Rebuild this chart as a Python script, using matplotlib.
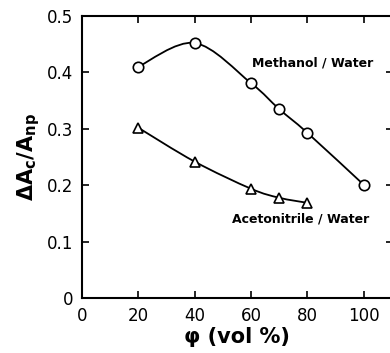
import numpy as np
import matplotlib
matplotlib.use("Agg")
import matplotlib.pyplot as plt
from matplotlib.path import Path
from matplotlib.patches import PathPatch

# data
phi_meoh = [20, 40, 60, 70, 80, 100]
ratio_meoh = [0.410, 0.452, 0.381, 0.335, 0.293, 0.201]
phi_acn = [20, 40, 60, 70, 80]
ratio_acn = [0.302, 0.242, 0.194, 0.178, 0.169]

x_ticks = [0, 20, 40, 60, 80, 100]
y_ticks = [0, 0.1, 0.2, 0.3, 0.4, 0.5]
y_ticklabels = ["0", "0.1", "0.2", "0.3", "0.4", "0.5"]

plt.rcParams['font.family'] = ['DejaVu Sans']


# smooth line through the points (Catmull-Rom drawn as Bezier segments)
def smooth_path(xs, ys):
    xs = np.asarray(xs, float)
    ys = np.asarray(ys, float)
    pts = np.column_stack([xs, ys])
    verts = [pts[0]]
    codes = [Path.MOVETO]
    n = len(pts)
    for i in range(n - 1):
        p0 = pts[i - 1] if i > 0 else pts[i]
        p1 = pts[i]
        p2 = pts[i + 1]
        p3 = pts[i + 2] if i + 2 < n else pts[i + 1]
        c1 = p1 + (p2 - p0) / 6.0
        c2 = p2 - (p3 - p1) / 6.0
        verts += [c1, c2, p2]
        codes += [Path.CURVE4] * 3
    return Path(verts, codes)


fig = plt.figure(figsize=(3.9, 3.53), dpi=100)
# right spine sits just past the edge of the picture, as in the scan
ax = fig.add_axes([0.21, 0.155, 0.797, 0.8])

for xs, ys, mk, ms in [(phi_meoh, ratio_meoh, 'o', 7.5), (phi_acn, ratio_acn, '^', 7.5)]:
    ax.add_patch(PathPatch(smooth_path(xs, ys), facecolor='none',
                           edgecolor='black', lw=1.3, zorder=2))
    ax.plot(xs, ys, linestyle='none', marker=mk, markersize=ms,
            markerfacecolor='white', markeredgecolor='black',
            markeredgewidth=1.2, zorder=3)

ax.text(82, 0.417, "Methanol / Water", ha='center', va='center',
        fontsize=9, fontweight='bold')
ax.text(77.5, 0.141, "Acetonitrile / Water", ha='center', va='center',
        fontsize=9, fontweight='bold')

ax.set_xlim(0, 110.3)
ax.set_ylim(0, 0.5)
ax.set_xticks(x_ticks)
ax.set_yticks(y_ticks)
ax.set_yticklabels(y_ticklabels)
ax.tick_params(direction='in', length=5, width=1.2, top=True, right=True,
               labelsize=12, pad=6)
for s in ax.spines.values():
    s.set_linewidth(1.5)

ax.set_xlabel("φ (vol %)", fontsize=15, fontweight='bold', labelpad=2)
ax.set_ylabel(r"$\mathbf{\Delta A_c/A_{np}}$", fontsize=15, labelpad=4)

fig.savefig("out.png", dpi=100)
